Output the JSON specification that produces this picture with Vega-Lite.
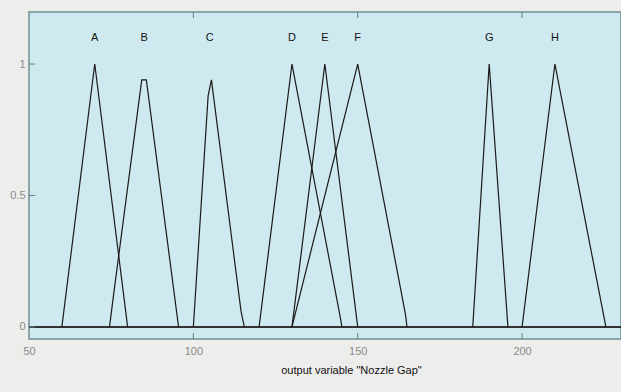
{
  "$schema": "https://vega.github.io/schema/vega-lite/v6.json",
  "width": 592,
  "height": 327,
  "autosize": {"type": "none"},
  "padding": {"left": 29, "top": 12, "right": 0, "bottom": 53},
  "background": "#ededeb",
  "config": {
    "view": {"fill": "#cfe9f0", "stroke": "#6f9090", "strokeWidth": 1.5},
    "font": "Liberation Sans",
    "axis": {"grid": false, "domain": false, "ticks": false, "labelColor": "#8a8a8a", "labelFontSize": 11, "labelFlush": false, "titleColor": "#111", "titleFontSize": 11, "titleFontWeight": "normal"}
  },
  "datasets": {
    "mf": [
      {"set": "A", "x": 60, "y": 0}, {"set": "A", "x": 70, "y": 1}, {"set": "A", "x": 80, "y": 0},
      {"set": "B", "x": 74.5, "y": 0}, {"set": "B", "x": 75.5, "y": 0.1}, {"set": "B", "x": 84.3, "y": 0.94}, {"set": "B", "x": 85.7, "y": 0.94}, {"set": "B", "x": 95.5, "y": 0},
      {"set": "C", "x": 100, "y": 0}, {"set": "C", "x": 104.5, "y": 0.88}, {"set": "C", "x": 105.5, "y": 0.94}, {"set": "C", "x": 114.5, "y": 0.06}, {"set": "C", "x": 115.5, "y": 0},
      {"set": "D", "x": 120, "y": 0}, {"set": "D", "x": 130, "y": 1}, {"set": "D", "x": 144.5, "y": 0.05}, {"set": "D", "x": 145.2, "y": 0},
      {"set": "E", "x": 130, "y": 0}, {"set": "E", "x": 140, "y": 1}, {"set": "E", "x": 150, "y": 0},
      {"set": "F", "x": 130, "y": 0}, {"set": "F", "x": 150, "y": 1}, {"set": "F", "x": 164.5, "y": 0.05}, {"set": "F", "x": 165, "y": 0},
      {"set": "G", "x": 185, "y": 0}, {"set": "G", "x": 190, "y": 1}, {"set": "G", "x": 195.7, "y": 0},
      {"set": "H", "x": 200, "y": 0}, {"set": "H", "x": 210, "y": 1}, {"set": "H", "x": 225.5, "y": 0}
    ],
    "labels": [
      {"set": "A", "x": 70, "y": 1.1}, {"set": "B", "x": 85, "y": 1.1}, {"set": "C", "x": 105, "y": 1.1},
      {"set": "D", "x": 130, "y": 1.1}, {"set": "E", "x": 140, "y": 1.1}, {"set": "F", "x": 150, "y": 1.1},
      {"set": "G", "x": 190, "y": 1.1}, {"set": "H", "x": 210, "y": 1.1}
    ],
    "xticks": [
      {"x": 100, "y": 1.198, "y2": 1.175}, {"x": 150, "y": 1.198, "y2": 1.175}, {"x": 200, "y": 1.198, "y2": 1.175},
      {"x": 100, "y": -0.046, "y2": -0.023}, {"x": 150, "y": -0.046, "y2": -0.023}, {"x": 200, "y": -0.046, "y2": -0.023}
    ],
    "yticks": [
      {"x": 50, "x2": 51.9, "y": 0}, {"x": 50, "x2": 51.9, "y": 0.5}, {"x": 50, "x2": 51.9, "y": 1}
    ],
    "zero": [{"y": 0}]
  },
  "layer": [
    {
      "data": {"name": "zero"},
      "mark": {"type": "rule", "color": "#333", "strokeWidth": 2},
      "encoding": {"y": {"field": "y", "type": "quantitative", "scale": {"domain": [-0.046, 1.198], "nice": false, "zero": false}, "axis": {"values": [0, 0.5, 1], "format": "~g", "labelPadding": 4, "title": null}}}
    },
    {
      "data": {"name": "mf"},
      "mark": {"type": "line", "color": "#1a1a1a", "strokeWidth": 1.2},
      "encoding": {
        "x": {"field": "x", "type": "quantitative", "scale": {"domain": [50, 230.1], "nice": false, "zero": false}, "axis": {"orient": "bottom", "values": [50, 100, 150, 200], "labelPadding": 6, "title": "output variable \"Nozzle Gap\"", "titleX": 322, "titleY": 31, "titleBaseline": "middle"}},
        "y": {"field": "y", "type": "quantitative"},
        "detail": {"field": "set"},
        "order": {"field": "x", "type": "quantitative"}
      }
    },
    {
      "data": {"name": "xticks"},
      "mark": {"type": "rule", "color": "#5f8585", "strokeWidth": 1},
      "encoding": {
        "x": {"field": "x", "type": "quantitative"},
        "y": {"field": "y", "type": "quantitative"},
        "y2": {"field": "y2"}
      }
    },
    {
      "data": {"name": "yticks"},
      "mark": {"type": "rule", "color": "#5f8585", "strokeWidth": 1},
      "encoding": {
        "x": {"field": "x", "type": "quantitative"},
        "x2": {"field": "x2"},
        "y": {"field": "y", "type": "quantitative"}
      }
    },
    {
      "data": {"name": "labels"},
      "mark": {"type": "text", "color": "#111", "fontSize": 11},
      "encoding": {
        "x": {"field": "x", "type": "quantitative"},
        "y": {"field": "y", "type": "quantitative"},
        "text": {"field": "set"}
      }
    }
  ]
}
